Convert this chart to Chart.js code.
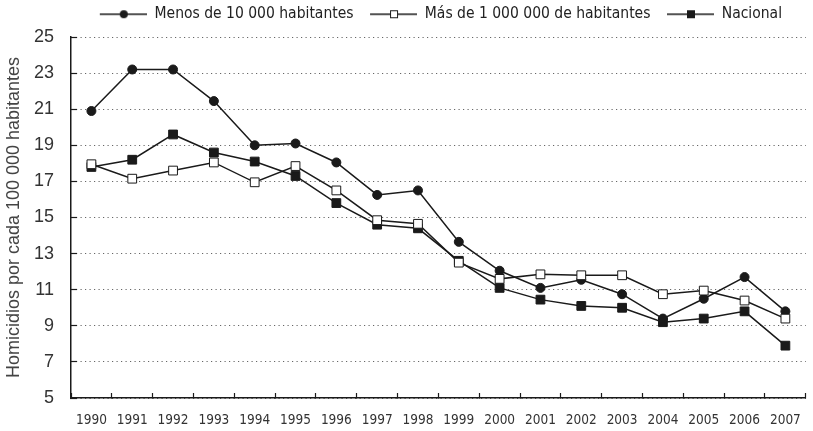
<!DOCTYPE html>
<html>
<head>
<meta charset="utf-8">
<script src="https://cdn.jsdelivr.net/npm/chart.js@4/dist/chart.umd.min.js"></script>
<style>
  html, body { margin: 0; padding: 0; background: #fff; }
  #wrap { width: 813px; height: 431px; }
</style>
</head>
<body>
<div id="wrap"><canvas id="grafico"></canvas></div>
<script>
const anos = ['1990','1991','1992','1993','1994','1995','1996','1997','1998','1999','2000','2001','2002','2003','2004','2005','2006','2007'];
const menos_10mil = [20.9, 23.2, 23.2, 21.45, 19.0, 19.1, 18.05, 16.25, 16.5, 13.65, 12.05, 11.1, 11.55, 10.75, 9.4, 10.5, 11.7, 9.8];
const mas_1millon = [17.95, 17.15, 17.6, 18.05, 16.95, 17.85, 16.5, 14.85, 14.65, 12.5, 11.6, 11.85, 11.8, 11.8, 10.75, 10.95, 10.4, 9.4];
const nacional = [17.8, 18.2, 19.6, 18.6, 18.1, 17.3, 15.8, 14.6, 14.4, 12.6, 11.1, 10.45, 10.1, 10.0, 9.2, 9.4, 9.8, 7.9];
const y_ticks = [5, 7, 9, 11, 13, 15, 17, 19, 21, 23, 25];

const ink = '#1a1a1a';
const narrow = "'DejaVu Sans Condensed', 'Liberation Sans Narrow', sans-serif";
const sans = "'Liberation Sans', Arial, sans-serif";

// icono de leyenda: linea con marcador (con margen a la izquierda)
function icono(tipo) {
  const c = document.createElement('canvas');
  c.width = 52; c.height = 12;
  const g = c.getContext('2d');
  g.strokeStyle = ink; g.lineWidth = 1.5;
  g.beginPath(); g.moveTo(5, 6); g.lineTo(52, 6); g.stroke();
  if (tipo === 'circle') {
    g.fillStyle = ink;
    g.beginPath(); g.arc(29, 6, 4, 0, Math.PI * 2); g.fill();
  } else if (tipo === 'open') {
    g.fillStyle = '#fff'; g.lineWidth = 1;
    g.fillRect(25, 2, 8, 8); g.strokeRect(25.5, 2.5, 7, 7);
  } else {
    g.fillStyle = ink;
    g.fillRect(25, 2, 8, 8);
  }
  return c;
}
const iconos = [icono('circle'), icono('open'), icono('filled')];

// centrar la leyenda sobre el area del grafico y subirla un poco
const ajusteLeyenda = {
  id: 'ajusteLeyenda',
  afterLayout(chart) {
    const lg = chart.legend;
    const ca = chart.chartArea;
    const d = (ca.left + ca.right) / 2 - (lg.left + lg.right) / 2;
    lg.left += d; lg.right += d;
    lg.top -= 5; lg.bottom -= 5;
  }
};

new Chart(document.getElementById('grafico'), {
  type: 'line',
  data: {
    labels: anos,
    datasets: [{
      label: 'Menos de 10 000 habitantes',
      data: menos_10mil,
      borderColor: ink,
      borderWidth: 1.5,
      pointStyle: 'circle',
      pointRadius: 4.5,
      pointBackgroundColor: ink,
      pointBorderColor: ink,
      pointBorderWidth: 1,
      order: 1
    }, {
      label: 'Más de 1 000 000 de habitantes',
      data: mas_1millon,
      borderColor: ink,
      borderWidth: 1.5,
      pointStyle: 'rect',
      pointRadius: 6.2,
      pointBackgroundColor: '#fff',
      pointBorderColor: ink,
      pointBorderWidth: 1,
      order: 0
    }, {
      label: 'Nacional',
      data: nacional,
      borderColor: ink,
      borderWidth: 1.5,
      pointStyle: 'rect',
      pointRadius: 6.2,
      pointBackgroundColor: ink,
      pointBorderColor: ink,
      pointBorderWidth: 1,
      order: 2
    }]
  },
  options: {
    responsive: true,
    maintainAspectRatio: false,
    animation: false,
    layout: { padding: 0 },
    scales: {
      x: {
        offset: true,
        grid: { offset: true, drawOnChartArea: false, tickLength: -5, tickColor: ink, tickWidth: 1.2 },
        border: { color: ink, width: 1.5 },
        ticks: { color: '#333', font: { family: narrow, size: 13.5 }, padding: 19, maxRotation: 0, autoSkip: false },
        afterFit(s) { s.height = 33; s.paddingLeft = 0; s.paddingRight = 0; }
      },
      y: {
        min: 5,
        max: 25,
        afterBuildTicks(s) { s.ticks = y_ticks.map(v => ({ value: v })); },
        grid: { color: '#666', lineWidth: 1, tickLength: -6, tickColor: ink, tickWidth: 1.2 },
        border: { color: ink, width: 1.5, dash: [1.2, 3.3] },
        ticks: { color: '#333', font: { family: sans, size: 18 }, padding: 23 },
        title: {
          display: true,
          text: 'Homicidios por cada 100 000 habitantes',
          color: '#444',
          font: { family: sans, size: 18 },
          padding: { top: 3, bottom: 0 }
        },
        afterFit(s) { s.width = 71; s.paddingTop = 0; s.paddingBottom = 0; }
      }
    },
    plugins: {
      legend: {
        position: 'top',
        labels: {
          color: '#222',
          font: { family: narrow, size: 15.5 },
          usePointStyle: true,
          pointStyleWidth: 52,
          padding: 11.5,
          generateLabels(chart) {
            return chart.data.datasets.map((ds, i) => ({
              text: ds.label,
              pointStyle: iconos[i],
              fillStyle: ink,
              strokeStyle: ink,
              lineWidth: 0,
              fontColor: '#222',
              hidden: false,
              datasetIndex: i
            }));
          }
        }
      },
      tooltip: { enabled: false }
    }
  },
  plugins: [ajusteLeyenda]
});
</script>
</body>
</html>
